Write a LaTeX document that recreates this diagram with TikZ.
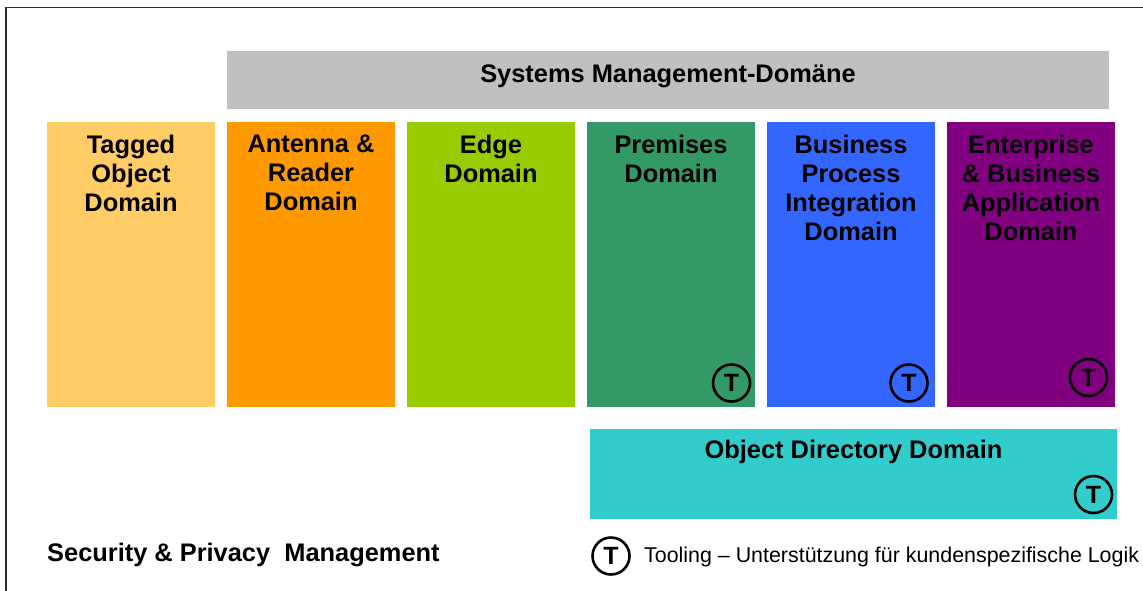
\documentclass[tikz,border=0pt]{standalone}
\usepackage{fontspec}
\setmainfont{Liberation Sans}
\definecolor{cTag}{RGB}{255,204,102}
\definecolor{cAnt}{RGB}{255,153,0}
\definecolor{cEdge}{RGB}{153,204,0}
\definecolor{cPrem}{RGB}{51,153,102}
\definecolor{cBus}{RGB}{51,102,255}
\definecolor{cEnt}{RGB}{128,0,128}
\definecolor{cDir}{RGB}{51,204,204}
\definecolor{cSys}{RGB}{192,192,192}
\definecolor{cFrame}{RGB}{45,45,45}
\tikzset{
  domainbox/.style={draw=none, inner sep=0pt, minimum width=168pt, minimum height=285pt, anchor=north west},
  domaintext/.style={inner sep=0pt, anchor=north, align=center, font=\bfseries\fontsize{25.4}{29}\selectfont},
  tcircle/.style={circle, draw=black, line width=2.6pt, minimum size=37pt, inner sep=0pt, font=\bfseries\fontsize{25}{25}\selectfont},
  bigbold/.style={inner sep=0pt, font=\bfseries\fontsize{25.4}{29}\selectfont},
}
\begin{document}
\begin{tikzpicture}[x=1pt,y=-1pt]
\useasboundingbox (0,0) rectangle (1143,590);
\fill[white] (0,0) rectangle (1143,590);
\draw[cFrame, line width=1.8pt] (5.7,600) -- (5.7,7.5) -- (1150,7.5);

% Systems management bar
\node[fill=cSys, inner sep=0pt, minimum width=882pt, minimum height=58pt, anchor=north west] (sys) at (227,51) {};
\node[bigbold, anchor=base] (systxt) at (668,82) {Systems Management-Domäne};

% Domain columns
\node[domainbox, fill=cTag]  (tag)  at (47,122) {};
\node[domainbox, fill=cAnt]  (ant)  at (227,122) {};
\node[domainbox, fill=cEdge] (edge) at (407,122) {};
\node[domainbox, fill=cPrem] (prem) at (587,122) {};
\node[domainbox, fill=cBus]  (bus)  at (767,122) {};
\node[domainbox, fill=cEnt]  (ent)  at (947,122) {};

\node[domaintext] (tagtxt)  at (131,135) {Tagged\\Object\\Domain};
\node[domaintext] (anttxt)  at (311,135) {Antenna \&\\Reader\\Domain};
\node[domaintext] (edgetxt) at (491,135) {Edge\\Domain};
\node[domaintext] (premtxt) at (671,135) {Premises\\Domain};
\node[domaintext] (bustxt)  at (851,135) {Business\\Process\\Integration\\Domain};
\node[domaintext] (enttxt)  at (1031,135) {Enterprise\\\& Business\\Application\\Domain};

% Object directory
\node[fill=cDir, inner sep=0pt, minimum width=527pt, minimum height=90pt, anchor=north west] (dir) at (590,429) {};
\node[bigbold, anchor=base] (dirtxt) at (853.5,458) {Object Directory Domain};

% Tooling circles
\node[tcircle] (tprem) at (731.5,383) {T};
\node[tcircle] (tbus)  at (909,383) {T};
\node[tcircle] (tent)  at (1088.5,377.5) {T};
\node[tcircle] (tdir)  at (1093.5,494.5) {T};

% Legend
\node[bigbold, anchor=base west] (sec) at (47,561) {Security \& Privacy\ \ Management};
\node[tcircle] (tleg) at (611,556) {T};
\node[inner sep=0pt, anchor=base west, font=\fontsize{21.4}{25}\selectfont] (legtxt) at (644,562) {Tooling – Unterstützung für kundenspezifische Logik};
\end{tikzpicture}
\end{document}
